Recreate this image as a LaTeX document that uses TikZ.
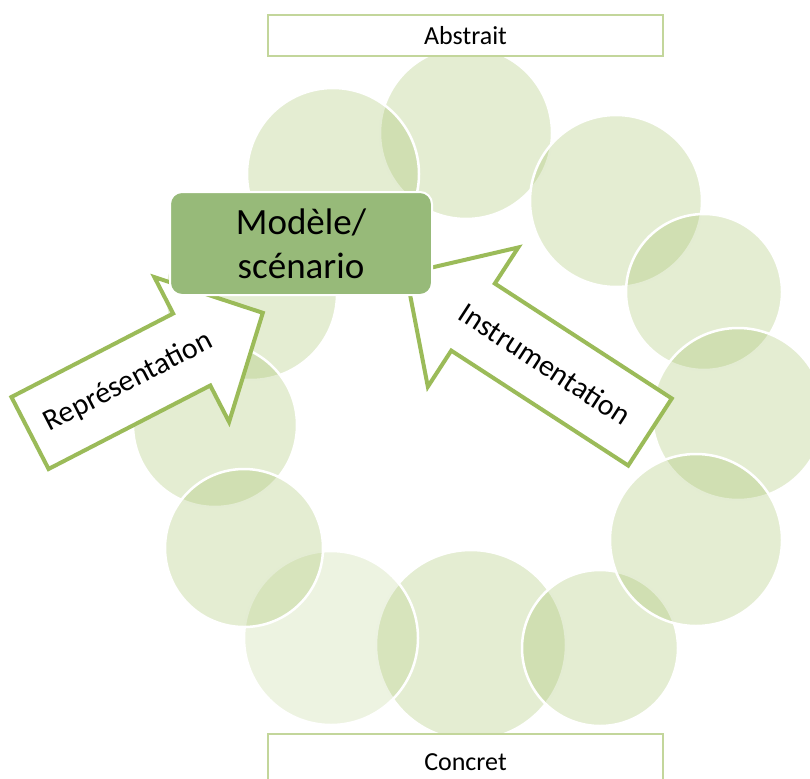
\documentclass[tikz,border=0pt]{standalone}
\usepackage{fontspec}
\setmainfont{Carlito}
\usepackage{tikz}
\definecolor{ringgreen}{HTML}{9BBB59}
\definecolor{edgegreen}{HTML}{9BBB59}
\definecolor{paleedge}{HTML}{C3D69B}
\definecolor{modelgreen}{HTML}{97BA79}
\tikzset{
x=1pt, y=-1pt, % pixel-like units, y grows downwards
ring/.style={circle, inner sep=0pt, fill=ringgreen, draw=white, line width=2.5pt}, % one circle of the cycle
levelbox/.style={draw=paleedge, line width=1.5pt, fill=white, minimum width=395pt, font=\fontsize{26}{31}\selectfont}, % Abstrait / Concret
blockarrow/.style={draw=edgegreen, line width=4pt, fill=white}, % big hollow arrows
arrowtext/.style={font=\fontsize{30}{36}\selectfont},
modelbox/.style={rounded corners=12pt, fill=modelgreen, draw=white, line width=2pt, minimum width=262pt, minimum height=103pt, align=center, font=\fontsize{37}{44}\selectfont},
}

\begin{document}
\begin{tikzpicture}
    \useasboundingbox (0,0) rectangle (810,778);

    % circles of the cycle, in stacking order
    \foreach \name/\cx/\cy/\d/\op in {c1/466/133/172/0.27, c12/251/294/172/0.27, c2/333/174/172/0.27,
            c3/616/201/172/0.27, c4/704/292/156/0.27, c5/738/414/172/0.27, c8/471/645/190/0.27,
            c7/600/648/156/0.27, c6/696/540/172/0.27, c9/331/638/174/0.18, c11/215/425/164/0.27,
            c10/244/548/158/0.27}
        \node[ring, fill opacity=\op, minimum size=\d pt] (\name) at (\cx,\cy) {};

    \node[levelbox, minimum height=41pt] (abstrait) at (465.5,35.5) {\raisebox{-2pt}{Abstrait}};
    \node[levelbox, minimum height=56pt] (concret) at (465.5,762) {Concret};

    % left arrow
    \begin{scope}[shift={(30,433)}, rotate=27.3]
        \draw[blockarrow] (0,-40.5) -- (182,-40.5) -- (182,-81.5) -- (262,0)
            -- (182,81.5) -- (182,40.5) -- (0,40.5) -- cycle;
        \node[arrowtext, rotate=27.3] (repr) at (111,0) {Représentation};
    \end{scope}

    % right arrow
    \begin{scope}[shift={(650,432)}, rotate=147]
        \draw[blockarrow] (0,-40) -- (211,-40) -- (211,-83) -- (291,0)
            -- (211,83) -- (211,40) -- (0,40) -- cycle;
        \node[arrowtext, rotate=-33] (instr) at (125,0) {Instrumentation};
    \end{scope}

    \node[modelbox] (model) at (301,243.5) {Modèle/\\scénario};
\end{tikzpicture}
\end{document}
